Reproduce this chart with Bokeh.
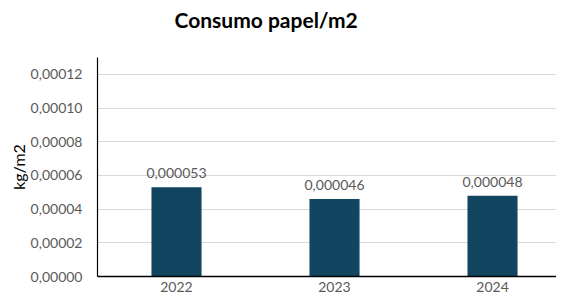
from bokeh.plotting import figure
from bokeh.models import ColumnDataSource, Range1d, FixedTicker, LabelSet, Title
from bokeh.core.properties import value
from bokeh.embed import file_html
from bokeh.resources import INLINE

years = ["2022", "2023", "2024"]
values = [0.000053, 0.000046, 0.000048]
value_labels = ["0,000053", "0,000046", "0,000048"]
y_ticks = [0.0, 0.00002, 0.00004, 0.00006, 0.00008, 0.00010, 0.00012]
y_tick_labels = ["0,00000", "0,00002", "0,00004", "0,00006", "0,00008", "0,00010", "0,00012"]

xpos = [i + 0.5 for i in range(len(years))]
src = ColumnDataSource(dict(x=xpos, top=values, lab=value_labels))

FONT = "Lato"
GRAY = "#595959"

p = figure(width=556, height=297, output_backend="svg", toolbar_location=None,
           x_range=Range1d(0, 2.905), y_range=Range1d(0, 0.00013),
           min_border_left=97, min_border_right=0, min_border_top=56, min_border_bottom=21)
p.outline_line_color = None
p.background_fill_color = "white"
p.border_fill_color = "white"

p.vbar(x="x", top="top", width=0.317, source=src, color="#12455f", line_color=None)

labels = LabelSet(x="x", y="top", text="lab", source=src, text_align="center",
                  text_baseline="bottom", y_offset=9, text_font=value(FONT),
                  text_font_size="14px", text_color=GRAY)
p.add_layout(labels)

# x axis
p.xaxis.ticker = FixedTicker(ticks=xpos)
p.xaxis.major_label_overrides = {x: y for x, y in zip(xpos, years)}
p.xaxis.major_tick_line_color = None
p.xaxis.major_tick_out = 0
p.xaxis.major_tick_in = 0
p.xaxis.minor_tick_line_color = None
p.xaxis.axis_line_color = "black"
p.xaxis.axis_line_width = 1.5
p.xaxis.major_label_text_font = FONT
p.xaxis.major_label_text_font_size = "14px"
p.xaxis.major_label_text_color = GRAY
p.xaxis.major_label_standoff = 5

# y axis
p.yaxis.ticker = FixedTicker(ticks=y_ticks)
p.yaxis.major_label_overrides = {t: l for t, l in zip(y_ticks, y_tick_labels)}
p.yaxis.major_tick_line_color = None
p.yaxis.major_tick_out = 0
p.yaxis.major_tick_in = 0
p.yaxis.minor_tick_line_color = None
p.yaxis.axis_line_color = "black"
p.yaxis.axis_line_width = 1.2
p.yaxis.major_label_text_font = FONT
p.yaxis.major_label_text_font_size = "14px"
p.yaxis.major_label_text_color = GRAY
p.yaxis.major_label_standoff = 15
p.yaxis.axis_label = "kg/m2"
p.yaxis.axis_label_text_font = FONT
p.yaxis.axis_label_text_font_size = "16px"
p.yaxis.axis_label_text_font_style = "normal"
p.yaxis.axis_label_text_color = "black"
p.yaxis.axis_label_standoff = 0

p.xgrid.grid_line_color = None
p.ygrid.grid_line_color = "#d9d9d9"
p.ygrid.grid_line_width = 1.2

# spacer between frame and title
p.add_layout(Title(text=" ", text_font_size="1px", standoff=19), "above")

p.title = Title(text="Consumo papel/m2", align="left", offset=77, standoff=8,
                text_font=FONT, text_font_size="21px", text_font_style="bold",
                text_color="black")

open("out.html", "w").write(file_html(p, INLINE))
